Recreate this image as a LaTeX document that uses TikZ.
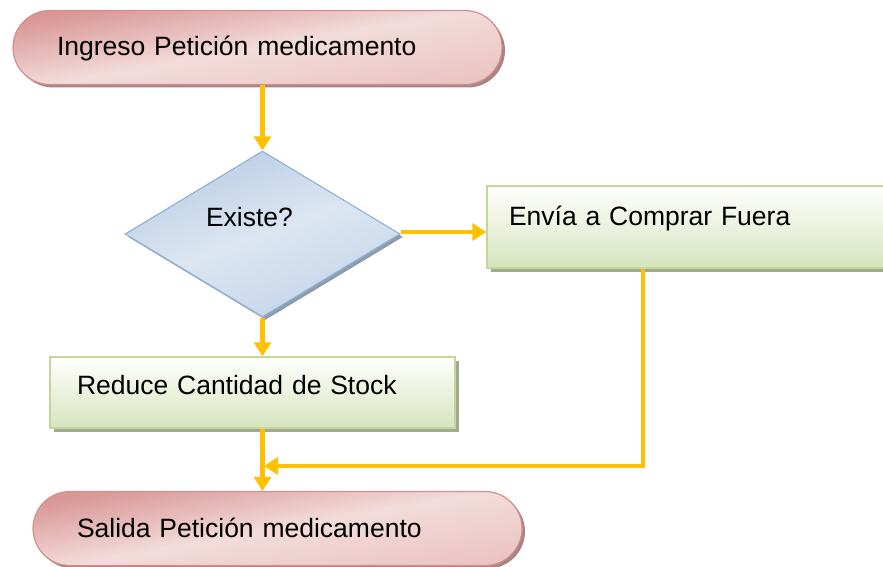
\documentclass[tikz,border=0pt]{standalone}
\usepackage{fontspec}
\setmainfont{Liberation Sans}
\usetikzlibrary{shapes.geometric,shapes.misc,arrows.meta,shadows}
\definecolor{arrowc}{HTML}{FFC000}
\definecolor{termdark}{HTML}{D99694}
\definecolor{termlight}{HTML}{F2DCDB}
\definecolor{termmid}{HTML}{EBC5C4}
\definecolor{termborder}{HTML}{D4908E}
\definecolor{termshadow}{HTML}{A88584}
\definecolor{diadark}{HTML}{B9CDE5}
\definecolor{dialight}{HTML}{DCE6F2}
\definecolor{diaborder}{HTML}{95B3D7}
\definecolor{diashadow}{HTML}{8E9CB0}
\definecolor{boxbottom}{HTML}{D7E4BD}
\definecolor{boxborder}{HTML}{C3D69B}
\definecolor{boxshadow}{HTML}{A5A98D}
\begin{document}
\begin{tikzpicture}[x=1pt,y=-1pt,
  basefont/.style={font=\fontsize{26.5pt}{30pt}\selectfont, text=black, inner sep=0pt, align=left, text height=19pt},
  terminal/.style={basefont, rounded rectangle, draw=termborder, line width=1.2pt,
    top color=termdark, bottom color=termmid, middle color=termlight, shading angle=10,
    minimum width=489pt, minimum height=74pt, text width=401pt,
    drop shadow={shadow xshift=3pt, shadow yshift=-3pt, fill=termshadow, opacity=1}},
  decision/.style={basefont, diamond, draw=diaborder, line width=1.2pt,
    top color=diadark, bottom color=diadark!70!dialight, middle color=dialight, shading angle=20,
    minimum width=275pt, minimum height=162pt, text width=113pt, text depth=34pt,
    drop shadow={shadow xshift=3pt, shadow yshift=-3pt, fill=diashadow, opacity=1}},
  process/.style={basefont, rectangle, draw=boxborder, line width=1.5pt,
    top color=white, bottom color=boxbottom,
    drop shadow={shadow xshift=4pt, shadow yshift=-4pt, fill=boxshadow, opacity=1}},
  flow/.style={draw=arrowc, line width=4.5pt, -{Triangle[width=17pt,length=14pt]}}
]
\clip (0,0) rectangle (883,567);

\node[terminal, text depth=3pt] (ingreso) at (257.5,47.5) {Ingreso Petición medicamento};
\node[decision] (existe) at (262.5,234) {Existe?};
\node[process, minimum width=420pt, minimum height=82pt, text width=376pt, text depth=22pt] (envia) at (697,227) {Envía a Comprar Fuera};
\node[process, minimum width=405pt, minimum height=71pt, text width=351pt, text depth=15pt] (reduce) at (252.5,392.5) {Reduce Cantidad de Stock};
\node[terminal, text depth=1pt] (salida) at (277.5,528.5) {Salida Petición medicamento};

\coordinate (joint) at (264,466);

\draw[flow] (ingreso.south -| existe.north) -- (existe.north);
\draw[flow] ([yshift=2pt]existe.east) -- ([yshift=2pt]existe.east -| envia.west);
\draw[flow] (existe.south) -- (existe.south |- reduce.north);
\draw[flow] (reduce.south -| existe.south) -- (existe.south |- salida.north);
\draw[flow] ([xshift=-54pt]envia.south) |- (joint);
\end{tikzpicture}
\end{document}
